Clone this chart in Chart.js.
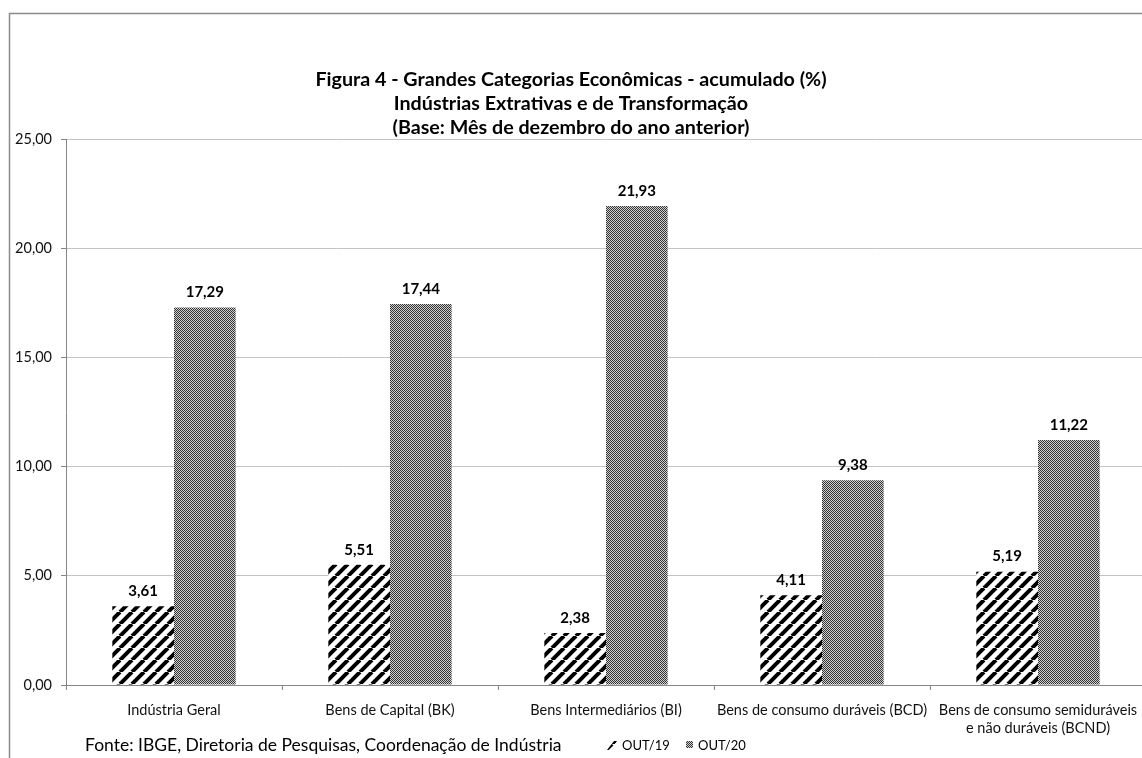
<!DOCTYPE html>
<html>
<head>
<meta charset="utf-8">
<script src="https://cdn.jsdelivr.net/npm/chart.js@4.4.1/dist/chart.umd.min.js"></script>
<style>
  html, body { margin: 0; padding: 0; background: #fff; overflow: hidden; }
  #wrap { width: 1142px; height: 758px; position: relative; overflow: hidden; }
</style>
</head>
<body>
<div id="wrap"><canvas id="chart" width="1152" height="758"></canvas></div>
<script>
const categories = [
    'Indústria Geral',
    'Bens de Capital (BK)',
    'Bens Intermediários (BI)',
    'Bens de consumo duráveis (BCD)',
    ['Bens de consumo semiduráveis', 'e não duráveis (BCND)']
];
const out19 = [3.61, 5.51, 2.38, 4.11, 5.19];
const out20 = [17.29, 17.44, 21.93, 9.38, 11.22];
const seriesNames = ['OUT/19', 'OUT/20'];
const titleLines = [
    'Figura 4 - Grandes Categorias Econômicas - acumulado (%)',
    'Indústrias Extrativas e de Transformação',
    '(Base: Mês de dezembro do ano anterior)'
];
const sourceText = 'Fonte: IBGE, Diretoria de Pesquisas, Coordenação de Indústria';

const FONT = "Lato, 'Open Sans', sans-serif";
const fmt = v => v.toFixed(2).replace('.', ',');

// stripe pattern "/" for OUT/19
function stripePattern() {
    const s = 12;
    const c = document.createElement('canvas');
    c.width = s; c.height = s;
    const g = c.getContext('2d');
    g.fillStyle = '#fff';
    g.fillRect(0, 0, s, s);
    g.strokeStyle = '#000';
    g.lineWidth = 4;
    for (let k = -1; k <= 1; k++) {
        g.beginPath();
        g.moveTo(k * s, s);
        g.lineTo(k * s + s, 0);
        g.stroke();
    }
    return g.createPattern(c, 'repeat');
}

// fine checker for OUT/20
function checkerPattern() {
    const c = document.createElement('canvas');
    c.width = 2; c.height = 2;
    const g = c.getContext('2d');
    g.fillStyle = '#d0d0d0';
    g.fillRect(0, 0, 2, 2);
    g.fillStyle = '#333';
    g.fillRect(0, 0, 1, 1);
    g.fillRect(1, 1, 1, 1);
    return g.createPattern(c, 'repeat');
}

const pat19 = stripePattern();
const pat20 = checkerPattern();

const decorPlugin = {
    id: 'decor',
    beforeDraw(chart) {
        const ctx = chart.ctx;
        ctx.save();
        ctx.fillStyle = '#fff';
        ctx.fillRect(0, 0, chart.width, chart.height);
        ctx.strokeStyle = '#8c8c8c';
        ctx.lineWidth = 1.5;
        ctx.strokeRect(9.5, 13.5, 1300, 900);
        ctx.restore();
    },
    afterDatasetsDraw(chart) {
        const ctx = chart.ctx;
        ctx.save();
        ctx.font = 'bold 15px ' + FONT;
        ctx.fillStyle = '#000';
        ctx.textAlign = 'center';
        ctx.textBaseline = 'middle';
        chart.data.datasets.forEach((ds, i) => {
            chart.getDatasetMeta(i).data.forEach((bar, j) => {
                ctx.fillText(fmt(ds.data[j]), bar.x, bar.y - 15);
            });
        });
        ctx.restore();
    },
    afterDraw(chart) {
        const ctx = chart.ctx;
        ctx.save();
        // title
        ctx.fillStyle = '#000';
        ctx.textAlign = 'center';
        ctx.textBaseline = 'middle';
        ctx.font = 'bold 19.7px ' + FONT;
        titleLines.forEach((t, i) => ctx.fillText(t, 571, 80 + i * 24));
        // source
        ctx.textAlign = 'left';
        ctx.font = '17.5px ' + FONT;
        ctx.fillText(sourceText, 85, 745);
        // legend
        ctx.font = '13px ' + FONT;
        ctx.fillStyle = pat19;
        ctx.beginPath();
        ctx.moveTo(607, 750); ctx.lineTo(614, 741); ctx.lineTo(617, 741); ctx.lineTo(611, 750);
        ctx.closePath(); ctx.fill();
        ctx.fillStyle = '#000';
        ctx.fillText(seriesNames[0], 622, 746);
        ctx.fillStyle = pat20;
        ctx.fillRect(686, 741, 7, 7);
        ctx.fillStyle = '#000';
        ctx.fillText(seriesNames[1], 698, 746);
        ctx.restore();
    }
};

new Chart(document.getElementById('chart'), {
    type: 'bar',
    data: {
        labels: categories,
        datasets: [
            { label: seriesNames[0], data: out19, backgroundColor: pat19, borderWidth: 0 },
            { label: seriesNames[1], data: out20, backgroundColor: pat20, borderWidth: 0 }
        ]
    },
    options: {
        responsive: false,
        animation: false,
        devicePixelRatio: 1,
        layout: { padding: { left: 10, top: 139, right: 6, bottom: 0 } },
        datasets: { bar: { categoryPercentage: 0.571, barPercentage: 1.0 } },
        plugins: {
            legend: { display: false },
            title: { display: false },
            tooltip: { enabled: false }
        },
        scales: {
            x: {
                offset: true,
                grid: { offset: true, drawOnChartArea: false, drawTicks: true, tickLength: 5, color: '#868686' },
                border: { color: '#868686', width: 1 },
                ticks: { color: '#111', font: { family: FONT, size: 14.5, lineHeight: 1.25 }, padding: 11, maxRotation: 0, autoSkip: false },
                afterFit(scale) { scale.height = 73; }
            },
            y: {
                min: 0,
                max: 25,
                ticks: {
                    stepSize: 5,
                    color: '#111',
                    font: { family: FONT, size: 14.5 },
                    padding: 9,
                    callback: v => fmt(v)
                },
                grid: { color: '#c4c4c4', tickColor: '#868686', tickLength: 5 },
                border: { color: '#868686', width: 1 },
                afterFit(scale) { scale.width = 56; }
            }
        }
    },
    plugins: [decorPlugin]
});
</script>
</body>
</html>
